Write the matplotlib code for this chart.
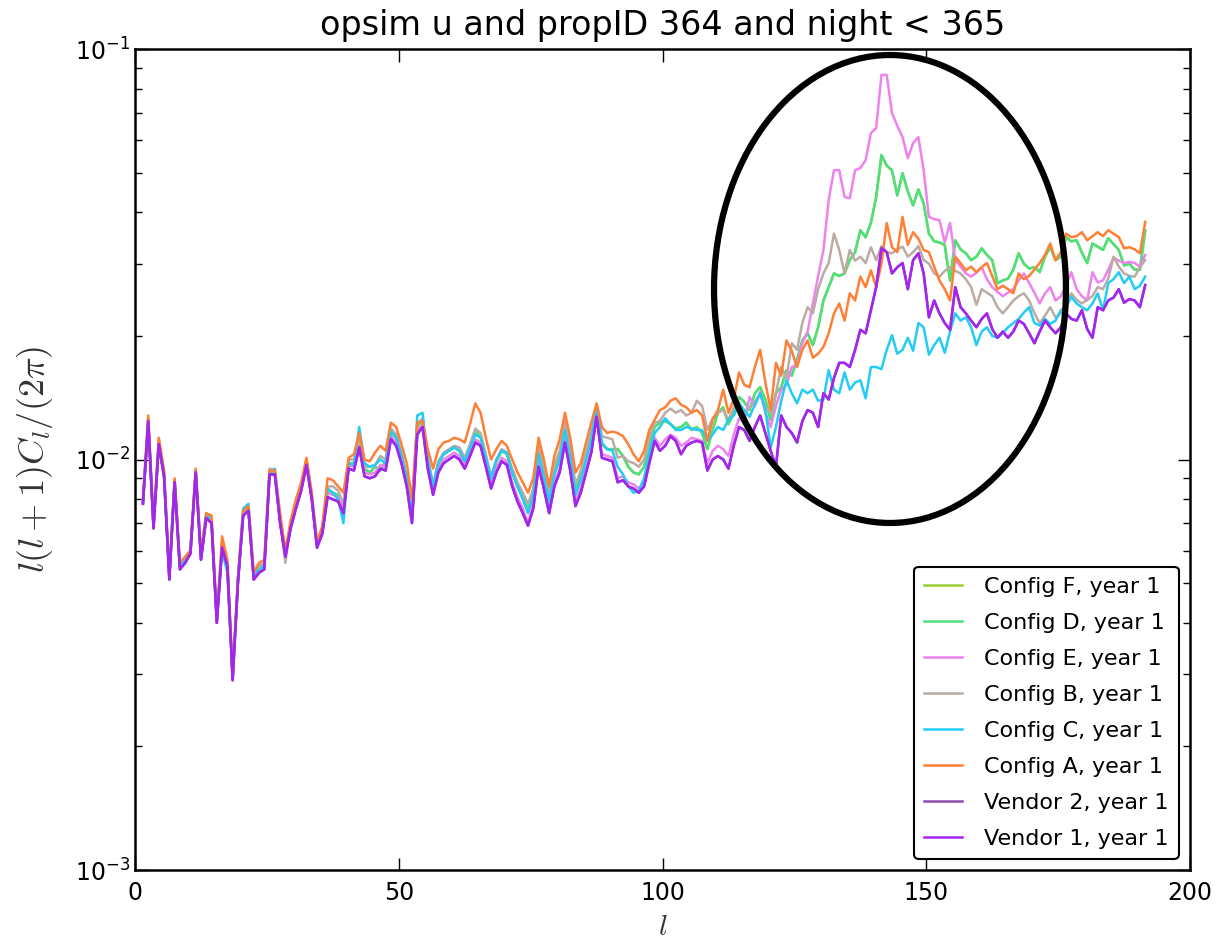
import numpy as np
import matplotlib
matplotlib.use("Agg")
import matplotlib.pyplot as plt
from matplotlib.patches import Ellipse

plt.rcParams['font.family'] = ['DejaVu Sans']
plt.rcParams['mathtext.fontset'] = 'cm'

# multipoles (bin centres)
ell = np.arange(1, 192) + 0.5

# power spectra l(l+1)C_l/(2pi), in units of 1e-3
config_f = [
    7.9, 12.5, 6.9, 11.0, 9.2, 5.2, 8.9, 5.5, 5.7, 6.0,
    9.4, 5.8, 7.3, 7.1, 4.05, 6.2, 5.6, 2.95, 5.05, 7.4,
    7.6, 5.2, 5.5, 5.5, 9.3, 9.3, 7.1, 5.9, 6.9, 7.7,
    8.5, 9.9, 8.1, 6.2, 6.7, 8.4, 8.3, 8.2, 7.7, 9.8,
    9.8, 11.2, 9.5, 9.3, 9.6, 9.4, 9.9, 11.7, 11.3, 10.3,
    9.0, 7.3, 12.0, 12.5, 9.9, 8.6, 9.8, 10.3, 10.5, 10.7,
    10.5, 10.0, 10.8, 11.7, 11.4, 10.1, 8.9, 9.9, 10.5, 10.3,
    9.3, 8.6, 8.1, 7.6, 8.3, 10.5, 9.3, 8.1, 9.4, 10.2,
    12.0, 10.3, 8.5, 9.1, 10.2, 11.4, 13.2, 10.9, 10.6, 10.6,
    10.6, 10.2, 9.6, 9.3, 9.2, 9.6, 10.8, 12.0, 12.3, 12.4,
    12.2, 11.9, 12.0, 12.3, 11.8, 12.0, 11.6, 10.6, 11.8, 13.0,
    13.4, 12.2, 13.0, 14.2, 13.8, 13.2, 14.5, 15.0, 14.0, 12.5,
    14.5, 15.0, 16.5, 16.0, 17.5, 19.5, 20.3, 19.0, 21.0, 24.4,
    26.3, 28.4, 28.0, 28.4, 30.6, 32.0, 36.2, 34.8, 37.7, 43.6,
    55.0, 52.0, 50.5, 44.0, 49.7, 45.0, 41.6, 45.5, 42.1, 35.5,
    34.0, 33.8, 33.3, 27.3, 34.2, 32.5, 31.8, 30.6, 31.2, 32.7,
    31.5, 30.6, 26.9, 27.3, 27.6, 29.0, 31.8, 30.0, 29.2, 29.4,
    28.6, 31.2, 32.9, 30.6, 31.2, 34.8, 34.0, 34.2, 31.9, 30.1,
    33.6, 33.0, 32.4, 34.6, 33.5, 32.4, 29.7, 30.0, 29.0, 29.0,
    36.0]
config_d = [
    7.9, 12.5, 6.9, 11.0, 9.2, 5.2, 8.9, 5.5, 5.7, 6.0,
    9.4, 5.8, 7.3, 7.1, 4.05, 6.2, 5.6, 2.95, 5.05, 7.4,
    7.6, 5.2, 5.5, 5.5, 9.3, 9.3, 7.1, 5.9, 6.9, 7.7,
    8.5, 9.9, 8.1, 6.2, 6.7, 8.4, 8.3, 8.2, 7.7, 9.8,
    9.8, 11.2, 9.5, 9.3, 9.6, 9.4, 9.9, 11.7, 11.3, 10.3,
    9.0, 7.3, 12.0, 12.5, 9.9, 8.6, 9.8, 10.3, 10.5, 10.7,
    10.5, 10.0, 10.8, 11.7, 11.4, 10.1, 8.9, 9.9, 10.5, 10.3,
    9.3, 8.6, 8.1, 7.6, 8.3, 10.5, 9.3, 8.1, 9.4, 10.2,
    12.0, 10.3, 8.5, 9.1, 10.2, 11.4, 13.2, 10.9, 10.6, 10.6,
    10.6, 10.2, 9.6, 9.3, 9.2, 9.6, 10.8, 12.0, 12.3, 12.4,
    12.2, 11.9, 12.0, 12.3, 11.8, 12.0, 11.6, 10.6, 11.8, 13.0,
    13.4, 12.2, 13.0, 14.2, 13.8, 13.2, 14.5, 15.0, 14.0, 12.5,
    14.5, 15.0, 16.5, 16.0, 17.5, 19.5, 20.3, 19.0, 21.0, 24.4,
    26.3, 28.4, 28.0, 28.4, 30.6, 32.0, 36.2, 34.8, 37.7, 43.6,
    55.2, 52.0, 50.7, 44.0, 49.9, 45.0, 41.6, 45.5, 42.1, 35.5,
    34.0, 33.8, 33.3, 27.3, 34.2, 32.5, 31.8, 30.6, 31.2, 32.7,
    31.5, 30.6, 26.9, 27.3, 27.6, 29.0, 31.8, 30.0, 29.2, 29.4,
    28.6, 31.2, 32.9, 30.6, 31.2, 34.8, 34.0, 34.2, 31.9, 30.1,
    33.6, 33.0, 32.4, 34.6, 33.5, 32.4, 29.7, 30.0, 29.0, 29.0,
    36.2]
config_e = [
    7.8, 12.3, 6.8, 10.9, 9.1, 5.1, 8.8, 5.4, 5.6, 5.9,
    9.3, 5.7, 7.2, 7.0, 4.0, 6.1, 5.5, 2.9, 5.0, 7.3,
    7.5, 5.1, 5.3, 5.4, 9.2, 9.2, 7.0, 5.8, 6.8, 7.6,
    8.4, 9.7, 8.0, 6.1, 6.6, 8.3, 8.2, 8.1, 7.6, 9.7,
    9.6, 10.9, 9.3, 9.2, 9.3, 9.7, 9.6, 11.4, 11.0, 10.0,
    8.8, 7.2, 11.7, 12.2, 9.7, 8.4, 9.5, 10.0, 10.2, 10.4,
    10.2, 9.7, 10.4, 11.2, 11.0, 9.8, 8.7, 9.5, 10.1, 9.9,
    8.8, 8.1, 7.6, 7.0, 7.8, 9.8, 8.7, 7.6, 8.8, 9.5,
    11.2, 9.6, 7.9, 8.5, 9.5, 10.6, 12.9, 10.3, 10.2, 10.1,
    9.0, 9.1, 8.8, 8.7, 8.5, 8.8, 10.0, 11.3, 10.8, 11.2,
    11.5, 11.3, 10.8, 11.0, 11.3, 11.2, 11.1, 9.8, 10.5, 10.8,
    10.6, 10.2, 11.5, 12.6, 12.3, 14.2, 13.5, 14.6, 13.0, 12.0,
    13.5, 14.8, 15.2, 16.8, 17.0, 19.2, 20.5, 24.0, 28.0, 32.4,
    42.9, 50.7, 50.7, 43.6, 43.3, 50.7, 51.3, 53.6, 62.4, 64.2,
    86.5, 86.5, 69.8, 65.0, 61.0, 54.2, 59.0, 61.0, 50.7, 39.0,
    38.5, 38.3, 33.8, 37.7, 30.6, 29.5, 28.4, 27.9, 28.5, 29.4,
    27.5, 26.3, 25.6, 25.0, 25.5, 26.0, 27.3, 28.4, 26.9, 25.5,
    24.0, 25.4, 26.3, 24.4, 25.0, 26.5, 28.6, 26.0, 25.0, 24.4,
    28.6, 27.0, 27.3, 29.0, 31.0, 30.5, 30.1, 30.3, 30.1, 29.5,
    31.5]
config_b = [
    7.9, 12.6, 6.9, 11.2, 9.3, 5.2, 8.9, 5.5, 5.7, 6.0,
    9.4, 5.8, 7.4, 7.1, 4.1, 6.3, 5.6, 2.95, 5.1, 7.5,
    7.6, 5.2, 5.5, 5.6, 9.5, 9.4, 7.1, 5.6, 7.0, 7.8,
    8.6, 10.0, 8.2, 6.2, 6.8, 8.6, 8.6, 8.4, 7.8, 10.0,
    10.0, 11.3, 9.6, 9.6, 9.7, 10.2, 10.0, 11.9, 11.5, 10.4,
    9.1, 7.4, 12.2, 12.6, 10.1, 8.7, 9.9, 10.4, 10.6, 10.8,
    10.7, 10.1, 10.9, 11.9, 11.6, 10.3, 9.1, 10.0, 10.6, 10.4,
    9.5, 8.8, 8.3, 7.8, 8.5, 10.8, 9.6, 8.3, 9.7, 10.5,
    12.4, 10.6, 8.7, 9.4, 10.5, 11.7, 13.5, 11.4, 11.3, 11.2,
    10.1, 10.2, 9.9, 9.8, 9.6, 10.0, 11.3, 12.3, 12.4, 13.0,
    13.3, 13.0, 13.2, 12.8, 13.0, 13.9, 13.5, 11.8, 12.6, 13.0,
    13.2, 12.5, 13.4, 13.8, 13.0, 13.4, 13.8, 14.5, 13.4, 13.0,
    14.5, 16.8, 15.8, 19.2, 18.5, 21.5, 23.5, 22.7, 26.0, 28.4,
    30.1, 35.5, 32.4, 28.4, 32.4, 30.5, 31.2, 30.1, 32.9, 30.6,
    33.1, 32.0, 31.8, 32.5, 33.0, 31.2, 32.0, 33.1, 30.6, 30.0,
    28.4, 27.9, 28.8, 29.4, 28.8, 28.4, 27.5, 26.3, 23.8, 26.0,
    25.5, 25.0, 23.5, 22.7, 23.5, 24.4, 25.0, 25.4, 24.4, 22.7,
    21.5, 22.4, 23.5, 22.2, 22.7, 24.0, 25.4, 24.5, 24.0, 24.5,
    25.0, 26.3, 26.0, 27.6, 31.2, 29.5, 28.4, 28.0, 27.9, 29.4,
    30.6]
config_c = [
    7.9, 12.2, 6.9, 10.8, 9.0, 5.2, 8.9, 5.5, 5.7, 6.0,
    9.2, 5.9, 7.4, 7.1, 4.1, 6.0, 5.3, 2.95, 5.1, 7.6,
    7.8, 5.2, 5.4, 5.5, 9.3, 9.5, 7.2, 5.9, 6.9, 7.7,
    8.5, 9.8, 8.1, 6.2, 6.6, 8.5, 8.3, 8.0, 7.0, 9.8,
    9.7, 12.0, 9.8, 9.6, 9.7, 10.0, 9.8, 11.7, 11.3, 10.2,
    9.0, 7.3, 12.8, 13.0, 10.0, 8.6, 9.8, 10.3, 10.5, 10.7,
    10.5, 9.9, 10.7, 11.5, 11.3, 10.1, 9.0, 10.0, 10.5, 10.4,
    9.3, 8.6, 8.0, 7.4, 8.2, 10.3, 9.1, 7.9, 9.2, 10.0,
    11.8, 10.1, 8.2, 8.9, 10.0, 11.2, 13.5, 11.0, 10.6, 10.5,
    9.6, 9.2, 8.6, 8.3, 8.4, 9.0, 10.4, 11.6, 12.0, 12.6,
    12.2, 11.8, 11.8, 12.0, 11.9, 11.8, 11.8, 11.1, 11.5, 12.0,
    11.8, 12.5, 12.8, 13.7, 13.2, 12.7, 13.6, 14.5, 13.2, 10.7,
    12.0, 13.9, 15.6, 14.5, 13.7, 14.8, 14.5, 14.8, 13.9, 14.0,
    16.5, 14.8, 14.5, 16.3, 14.8, 15.4, 15.6, 14.1, 16.8, 16.8,
    16.6, 18.5, 20.1, 18.1, 18.5, 19.8, 18.4, 21.5, 21.0, 18.0,
    19.0, 19.8, 18.2, 20.5, 22.7, 21.8, 22.2, 21.0, 19.0, 20.5,
    21.0, 20.0, 19.8, 20.3, 21.0, 21.5, 22.0, 22.8, 23.5, 21.5,
    21.2, 22.0, 21.4, 21.8, 23.1, 23.5, 24.9, 24.0, 23.5, 23.1,
    24.0, 25.4, 23.1, 26.9, 27.5, 28.6, 26.9, 27.9, 26.0, 26.5,
    27.9]
config_a = [
    8.0, 12.8, 7.0, 11.3, 9.4, 5.2, 9.0, 5.6, 5.8, 6.0,
    9.5, 5.9, 7.4, 7.3, 4.1, 6.5, 5.7, 3.0, 5.1, 7.5,
    7.7, 5.3, 5.6, 5.7, 9.4, 9.4, 7.4, 6.0, 7.1, 8.0,
    8.8, 10.1, 8.3, 6.3, 6.9, 9.0, 8.9, 8.6, 8.3, 10.1,
    10.3, 11.6, 10.0, 9.9, 10.4, 10.8, 10.5, 12.3, 12.0, 10.9,
    9.8, 8.0, 12.3, 12.4, 10.6, 9.5, 10.6, 11.0, 11.1, 11.3,
    11.2, 11.0, 12.2, 13.7, 13.0, 11.3, 10.0, 10.6, 11.1, 10.8,
    10.0, 9.3, 8.8, 8.3, 9.0, 11.3, 10.0, 8.6, 10.2, 11.2,
    13.0, 11.3, 9.3, 9.8, 11.0, 12.3, 13.7, 12.0, 11.6, 11.7,
    11.6, 11.4, 10.9, 10.3, 9.9, 10.5, 11.8, 12.5, 13.2, 13.4,
    13.9, 14.1, 13.6, 13.4, 13.0, 13.2, 12.8, 11.1, 12.5, 13.2,
    14.8, 13.0, 14.0, 16.3, 15.2, 15.0, 16.8, 18.5, 15.4, 13.2,
    17.2, 16.0, 19.5, 18.4, 16.8, 18.5, 19.5, 17.7, 18.1, 18.8,
    20.3, 22.7, 24.0, 21.8, 25.4, 24.4, 27.9, 26.3, 28.9, 26.3,
    30.0, 37.7, 32.9, 32.0, 39.0, 33.3, 35.8, 34.5, 32.4, 32.0,
    29.5, 27.3, 26.0, 24.4, 31.2, 30.1, 28.9, 29.5, 28.6, 29.4,
    30.1, 28.0, 26.0, 26.5, 26.0, 25.4, 28.4, 27.5, 28.0, 29.0,
    30.1, 31.5, 33.6, 30.6, 32.0, 35.5, 34.8, 35.0, 35.8, 34.2,
    35.0, 35.8, 35.0, 36.2, 35.5, 34.8, 32.7, 32.9, 32.5, 31.8,
    37.9]
vendor_2 = [
    7.8, 12.4, 6.8, 10.9, 9.1, 5.1, 8.8, 5.4, 5.6, 5.9,
    9.3, 5.7, 7.2, 7.0, 4.0, 6.1, 5.5, 2.9, 5.0, 7.3,
    7.5, 5.1, 5.3, 5.4, 9.2, 9.2, 7.0, 5.8, 6.8, 7.6,
    8.4, 9.7, 8.0, 6.1, 6.6, 8.1, 8.0, 7.9, 7.4, 9.5,
    9.4, 10.7, 9.1, 9.0, 9.1, 9.5, 9.4, 11.2, 10.8, 9.8,
    8.6, 7.0, 11.5, 12.0, 9.5, 8.2, 9.3, 9.8, 10.0, 10.2,
    10.0, 9.5, 10.2, 11.0, 10.8, 9.6, 8.5, 9.3, 9.9, 9.7,
    8.6, 7.9, 7.4, 6.9, 7.6, 9.6, 8.5, 7.4, 8.6, 9.3,
    11.0, 9.4, 7.7, 8.3, 9.3, 10.4, 12.7, 10.1, 10.0, 9.9,
    8.8, 8.9, 8.6, 8.5, 8.3, 8.6, 9.8, 11.1, 10.5, 10.8,
    11.4, 11.1, 10.3, 10.8, 11.0, 11.1, 11.0, 9.4, 10.0, 10.2,
    10.0, 9.5, 10.8, 12.0, 11.8, 11.1, 12.0, 12.8, 11.6, 10.5,
    9.6, 12.8, 12.0, 11.6, 11.0, 12.4, 13.2, 13.0, 12.0, 14.5,
    14.0, 15.8, 17.2, 17.2, 16.8, 18.5, 20.7, 20.3, 23.1, 26.3,
    32.7, 32.0, 28.4, 29.4, 30.1, 26.0, 30.6, 31.8, 28.4, 22.2,
    24.4, 22.7, 21.5, 20.7, 26.3, 23.5, 22.7, 21.8, 21.0, 22.0,
    22.7, 20.8, 19.8, 20.5, 19.8, 20.5, 21.8, 21.4, 20.3, 19.2,
    20.5, 21.8, 21.0, 20.3, 21.0, 22.7, 22.0, 21.8, 23.1, 20.8,
    19.8, 23.5, 23.1, 24.4, 24.8, 26.0, 24.1, 24.6, 24.4, 23.5,
    26.6]
vendor_1 = [
    7.8, 12.4, 6.8, 10.9, 9.1, 5.1, 8.8, 5.4, 5.6, 5.9,
    9.3, 5.7, 7.2, 7.0, 4.0, 6.1, 5.5, 2.9, 5.0, 7.3,
    7.5, 5.1, 5.3, 5.4, 9.2, 9.2, 7.0, 5.8, 6.8, 7.6,
    8.4, 9.7, 8.0, 6.1, 6.6, 8.1, 8.0, 7.9, 7.4, 9.5,
    9.4, 10.7, 9.1, 9.0, 9.1, 9.5, 9.4, 11.2, 10.8, 9.8,
    8.6, 7.0, 11.5, 12.0, 9.5, 8.2, 9.3, 9.8, 10.0, 10.2,
    10.0, 9.5, 10.2, 11.0, 10.8, 9.6, 8.5, 9.3, 9.9, 9.7,
    8.6, 7.9, 7.4, 6.9, 7.6, 9.6, 8.5, 7.4, 8.6, 9.3,
    11.0, 9.4, 7.7, 8.3, 9.3, 10.4, 12.7, 10.1, 10.0, 9.9,
    8.8, 8.9, 8.6, 8.5, 8.3, 8.6, 9.8, 11.1, 10.5, 10.8,
    11.4, 11.1, 10.3, 10.8, 11.0, 11.1, 11.0, 9.4, 10.0, 10.2,
    10.0, 9.5, 10.8, 12.0, 11.8, 11.1, 12.0, 12.8, 11.6, 10.5,
    9.6, 12.8, 12.0, 11.6, 11.0, 12.4, 13.2, 13.0, 12.0, 14.5,
    14.0, 15.8, 17.2, 17.2, 16.8, 18.5, 20.7, 20.3, 23.1, 26.3,
    32.7, 32.0, 28.4, 29.4, 30.1, 26.0, 30.6, 31.8, 28.4, 22.2,
    24.4, 22.7, 21.5, 20.7, 26.3, 23.5, 22.7, 21.8, 21.0, 22.0,
    22.7, 20.8, 19.8, 20.5, 19.8, 20.5, 21.8, 21.4, 20.3, 19.2,
    20.5, 21.8, 21.0, 20.3, 21.0, 22.7, 22.0, 21.8, 23.1, 20.8,
    19.8, 23.5, 23.1, 24.4, 24.8, 26.0, 24.1, 24.6, 24.4, 23.5,
    26.6]

labels = ['Config F, year 1', 'Config D, year 1', 'Config E, year 1',
          'Config B, year 1', 'Config C, year 1', 'Config A, year 1',
          'Vendor 2, year 1', 'Vendor 1, year 1']
colors = ['#9acd32', '#4de07c', '#ee82ee', '#bcaba4',
          '#22ccf5', '#ff7f35', '#8b4fab', '#a424f0']
series = [config_f, config_d, config_e, config_b,
          config_c, config_a, vendor_2, vendor_1]

fig = plt.figure(figsize=(12.3, 9.5), dpi=100)
ax = fig.add_axes([0.1098, 0.0842, 0.8577, 0.8642])

for vals, lab, col in zip(series, labels, colors):
    ax.plot(ell, np.array(vals) * 1e-3, color=col, lw=1.8, label=lab)

ax.set_yscale('log')
ax.set_xlim(0, 200)
ax.set_ylim(1e-3, 1e-1)
ax.set_xticks([0, 50, 100, 150, 200])

ax.tick_params(which='both', direction='in', top=True, right=True,
               labelsize=17)
ax.tick_params(which='major', length=9, width=1)
ax.tick_params(which='minor', length=5, width=1)
ax.tick_params(axis='x', pad=8)
for s in ax.spines.values():
    s.set_linewidth(1.8)

ax.set_title('opsim u and propID 364 and night < 365', fontsize=24, pad=10)
ax.set_xlabel(r'$l$', fontsize=21, labelpad=6, color='#333333')
ax.set_ylabel(r'$l(l+1)C_l/(2\pi)$', fontsize=26, labelpad=14,
              color='#333333')

leg = ax.legend(loc='lower right', fontsize=16, fancybox=True,
                handlelength=1.7, handletextpad=1.0, borderpad=0.45,
                labelspacing=0.72, framealpha=1, borderaxespad=0.5)
leg.get_frame().set_edgecolor('black')
leg.get_frame().set_linewidth(1.5)

# highlight the bump around l~140
ax.add_patch(Ellipse((0.7156, 0.7077), 0.3336, 0.570, transform=ax.transAxes,
                     fill=False, edgecolor='black', lw=4.5, clip_on=False,
                     zorder=10))

fig.savefig('out.png', dpi=100)
